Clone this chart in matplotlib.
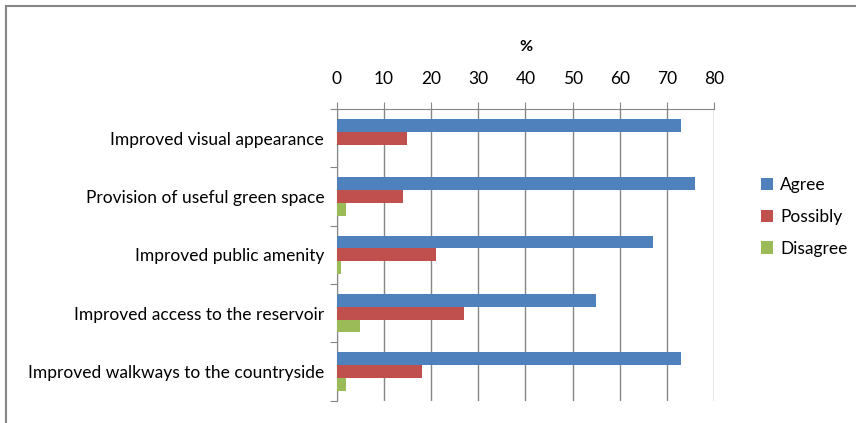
import numpy as np
import matplotlib.pyplot as plt
from matplotlib.lines import Line2D

plt.rcParams['font.family'] = ['Lato', 'DejaVu Sans']

categories = [
    'Improved visual appearance',
    'Provision of useful green space',
    'Improved public amenity',
    'Improved access to the reservoir',
    'Improved walkways to the countryside',
]
agree = [73, 76, 67, 55, 73]
possibly = [15, 14, 21, 27, 18]
disagree = [0, 2, 1, 5, 2]
series_names = ['Agree', 'Possibly', 'Disagree']
colors = ['#4F81BD', '#C0504D', '#9BBB59']
x_ticks = [0, 10, 20, 30, 40, 50, 60, 70, 80]

fig = plt.figure(figsize=(8.56, 4.23), dpi=100)
ax = fig.add_axes([0.3933, 0.0527, 0.4412, 0.6896])

centers = np.arange(len(categories)) + 0.5
h = 0.22
for k, (vals, name, col) in enumerate(zip([agree, possibly, disagree], series_names, colors)):
    ax.barh(centers + (k - 1) * h, vals, height=h, color=col, label=name, zorder=3)

ax.set_xlim(0, 80)
ax.set_ylim(len(categories), 0)
ax.xaxis.tick_top()
ax.xaxis.set_label_position('top')
ax.set_xticks(x_ticks)
ax.set_xlabel('%', fontsize=11.5, fontweight='bold', labelpad=14)
ax.tick_params(axis='x', direction='out', length=5, color='#868686', labelsize=12.5, pad=11)

ax.set_yticks(np.arange(len(categories) + 1))
ax.set_yticklabels([])
ax.set_yticks(centers, minor=True)
ax.set_yticklabels(categories, minor=True, fontsize=12.5)
ax.tick_params(axis='y', which='major', direction='out', length=5, color='#868686')
ax.tick_params(axis='y', which='minor', length=0, pad=9)

ax.grid(axis='x', color='#868686', linewidth=1, zorder=0)
for s in ['right', 'bottom']:
    ax.spines[s].set_visible(False)
for s in ['top', 'left']:
    ax.spines[s].set_color('#868686')

ax.legend(loc='center left', bbox_to_anchor=(1.082, 0.63), frameon=False,
          fontsize=12.5, handlelength=0.7, handleheight=0.7, handletextpad=0.4,
          labelspacing=0.9)

# outer chart frame (top and left edges visible)
fig.add_artist(Line2D([5.5 / 856, 1], [1 - 6 / 423, 1 - 6 / 423], color='#868686', lw=1.5))
fig.add_artist(Line2D([5.5 / 856, 5.5 / 856], [0, 1 - 6 / 423], color='#868686', lw=1.5))

fig.savefig('out.png', dpi=100)
